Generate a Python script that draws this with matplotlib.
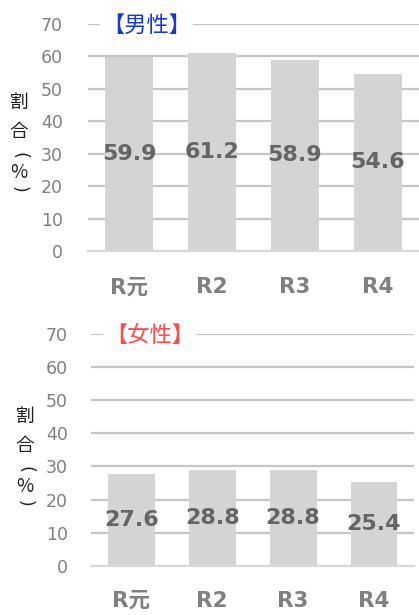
import matplotlib
matplotlib.use("Agg")
import matplotlib.pyplot as plt

plt.rcParams['font.family'] = ['DejaVu Sans', 'Noto Sans CJK JP']

categories = ["R元", "R2", "R3", "R4"]
male_values = [59.9, 61.2, 58.9, 54.6]
female_values = [27.6, 28.8, 28.8, 25.4]
y_ticks = [0, 10, 20, 30, 40, 50, 60, 70]
y_label = "割合（%）"

BAR_COLOR = "#d4d4d4"
GRID_COLOR = "#c6c6c6"
TICK_COLOR = "#808080"
LABEL_COLOR = "#656565"
CJK = ['Noto Sans CJK JP', 'DejaVu Sans']

W, H = 419, 615
fig = plt.figure(figsize=(W / 100, H / 100), dpi=100)

# vertical offsets (px) of each stacked character of the axis label
STACK_OFFSETS = [0, 29, 53, 70, 87]
# brackets turned sideways for vertical writing
SIDEWAYS = {"（": "(", "）": ")"}


def vertical_label(x_px, top_px, text):
    for ch, off in zip(text, STACK_OFFSETS):
        y = 1 - (top_px + off) / H
        if ch in SIDEWAYS:
            fig.text(x_px / W, y, SIDEWAYS[ch], fontsize=12.5, color="#222222",
                     family="DejaVu Sans", ha="center", va="center",
                     rotation=270)
        else:
            fig.text(x_px / W, y, ch, fontsize=13.5, color="#222222",
                     family=CJK, ha="center", va="center")


def draw_panel(rect, values, title, title_color, ylab_xy, ypad, xpad):
    ax = fig.add_axes(rect)
    x = range(len(categories))
    ax.set_axisbelow(True)
    ax.yaxis.grid(True, color=GRID_COLOR, linewidth=1.6)
    ax.bar(x, values, width=0.58, color=BAR_COLOR, zorder=2)
    ax.set_xlim(-0.5, len(categories) - 0.5)
    ax.set_ylim(0, 70)
    ax.set_yticks(y_ticks)
    ax.set_xticks(list(x))
    ax.set_xticklabels(categories, fontsize=15.5, fontweight="bold", color=TICK_COLOR)
    for lab in ax.get_yticklabels():
        lab.set_fontsize(12.5)
        lab.set_color(TICK_COLOR)
    ax.tick_params(axis="both", length=0)
    ax.tick_params(axis="y", pad=ypad)
    ax.tick_params(axis="x", pad=xpad)
    for s in ["top", "right", "left"]:
        ax.spines[s].set_visible(False)
    ax.spines["bottom"].set_color("#d9d9d9")
    ax.spines["bottom"].set_linewidth(1.6)
    for xi, v in zip(x, values):
        ax.text(xi, v / 2, f"{v:.1f}", ha="center", va="center",
                fontsize=16, fontweight="bold", color=LABEL_COLOR, zorder=3)
    fig.text(rect[0] + 0.033, rect[1] + rect[3] - 0.003, title, color=title_color,
             fontsize=16, ha="left", va="center", family=CJK,
             bbox=dict(facecolor="white", edgecolor="none", pad=1.5))
    vertical_label(ylab_xy[0], ylab_xy[1], y_label)
    return ax


draw_panel([0.21, 0.592, 0.79, 0.369], male_values, "【男性】", "#1538d0",
           (19, 102), 18, 19)
draw_panel([0.217, 0.08, 0.772, 0.377], female_values, "【女性】", "#ff4a4a",
           (25, 416), 16.5, 18)

fig.savefig("out.png", dpi=100)
